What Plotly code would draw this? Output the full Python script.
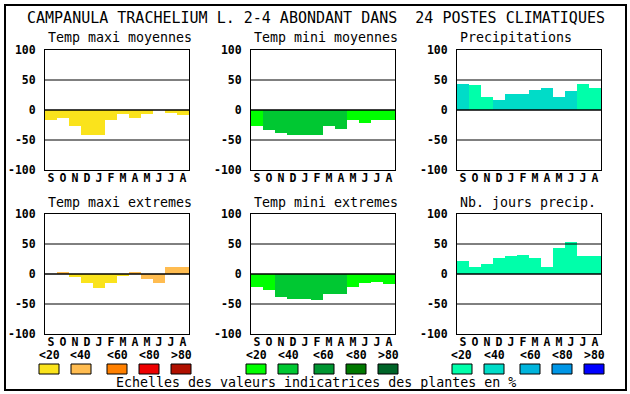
import plotly.graph_objects as go

W, H = 630, 394

# ---------------- data ----------------
TITLE = "CAMPANULA TRACHELIUM L. 2-4 ABONDANT DANS\u00a0\u00a024 POSTES CLIMATIQUES"
MONTHS = ["S", "O", "N", "D", "J", "F", "M", "A", "M", "J", "J", "A"]
PANEL_TITLES = ["Temp maxi moyennes", "Temp mini moyennes", "Precipitations",
                "Temp maxi extremes", "Temp mini extremes", "Nb. jours precip."]

tmax_moy = [-17, -13, -27, -42, -42, -17, -6, -14, -6, 0, -5, -8]
tmax_moy_cls = [0, 0, 0, 0, 0, 0, 0, 0, 0, 0, 0, 0]

tmin_moy = [-26, -34, -38, -41, -42, -41, -27, -31, -17, -21, -17, -16]
tmin_moy_cls = [0, 1, 1, 1, 1, 1, 1, 1, 0, 0, 0, 0]

precip = [44, 42, 21, 17, 26, 27, 34, 37, 21, 32, 44, 36]
precip_cls = [1, 0, 0, 1, 1, 1, 1, 1, 1, 1, 0, 0]

tmax_ext = [0, 4, -5, -15, -23, -15, -3, 4, -8, -15, 11, 12]
tmax_ext_cls = [0, 1, 0, 0, 0, 0, 0, 1, 1, 1, 1, 1]

tmin_ext = [-21, -27, -38, -42, -42, -44, -33, -34, -21, -15, -13, -16]
tmin_ext_cls = [0, 0, 1, 1, 1, 1, 1, 1, 0, 0, 0, 0]

nb_jours = [22, 12, 17, 27, 30, 32, 26, 11, 44, 54, 30, 30]
nb_jours_cls = [0, 0, 0, 0, 0, 0, 0, 0, 0, 0, 0, 0]

Y_TICKS = [-100, -50, 0, 50, 100]
LEGEND_LABELS = ["<20", "<40", "<60", "<80", ">80"]
FOOTER = "Echelles des valeurs indicatrices des plantes en %"

PAL_TEMP_MAX = ["#fae31c", "#ffbc50", "#ff8000", "#ee0000", "#b01000"]
PAL_TEMP_MIN = ["#00ff00", "#00c832", "#009632", "#007800", "#006428"]
PAL_WATER = ["#00ffaa", "#00dcc8", "#00b4dc", "#0096e6", "#0000ff"]

panels = [
    (tmax_moy, tmax_moy_cls, PAL_TEMP_MAX),
    (tmin_moy, tmin_moy_cls, PAL_TEMP_MIN),
    (precip, precip_cls, PAL_WATER),
    (tmax_ext, tmax_ext_cls, PAL_TEMP_MAX),
    (tmin_ext, tmin_ext_cls, PAL_TEMP_MIN),
    (nb_jours, nb_jours_cls, PAL_WATER),
]

# ---------------- layout geometry (pixels) ----------------
COL_LEFT = [45, 251, 457]
PW = 144
ROW_TOP = [50, 214]
PH = 120

MONO = "DejaVu Sans Mono"


def px(x):
    return x / W


def py(y):
    return 1 - y / H


fig = go.Figure()
layout = dict(
    width=W, height=H, autosize=False,
    margin=dict(l=0, r=0, t=0, b=0, pad=0, autoexpand=False),
    paper_bgcolor="white", plot_bgcolor="white",
    showlegend=False, bargap=0,
    font=dict(family=MONO, color="black"),
)
shapes = []
annotations = []

for i, (vals, cls, pal) in enumerate(panels):
    r, c = divmod(i, 3)
    n = i + 1
    xa = "x" if n == 1 else f"x{n}"
    ya = "y" if n == 1 else f"y{n}"
    fig.add_trace(go.Bar(
        x=list(range(len(MONTHS))), y=vals, width=1,
        marker=dict(color=[pal[k] for k in cls], line=dict(width=0)),
        xaxis=xa, yaxis=ya, hoverinfo="skip",
    ))
    x0, y0 = COL_LEFT[c], ROW_TOP[r]
    xkey = "xaxis" if n == 1 else f"xaxis{n}"
    ykey = "yaxis" if n == 1 else f"yaxis{n}"
    layout[xkey] = dict(
        domain=[px(x0), px(x0 + PW)], anchor=ya, range=[-0.5, 11.5],
        tickmode="array", tickvals=list(range(len(MONTHS))), ticktext=MONTHS,
        tickfont=dict(family=MONO, size=11.5, weight="bold", color="black"),
        ticks="", ticklabelstandoff=-3, automargin=False,
        showgrid=False, zeroline=False, showline=True, mirror=True,
        linecolor="black", linewidth=1, fixedrange=True,
    )
    layout[ykey] = dict(
        domain=[py(y0 + PH), py(y0)], anchor=xa, range=[-100, 100],
        tickmode="array", tickvals=Y_TICKS, ticktext=[str(v) for v in Y_TICKS],
        tickfont=dict(family=MONO, size=11.5, weight="bold", color="black"),
        ticks="", ticklabelstandoff=6, automargin=False,
        showgrid=False, zeroline=False, showline=True, mirror=True,
        linecolor="black", linewidth=1, fixedrange=True,
    )
    for gv in (-50, 0, 50):
        shapes.append(dict(type="line", xref=f"{xa} domain", yref=ya,
                           x0=0, x1=1, y0=gv, y1=gv, layer="above",
                           line=dict(color="black", width=1.3 if gv == 0 else 1)))
    annotations.append(dict(
        text=PANEL_TITLES[i], xref="paper", yref="paper",
        x=px(x0 + 1), y=py(y0 - 12), xanchor="left", yanchor="middle",
        showarrow=False, font=dict(family=MONO, size=13.3, color="black"),
    ))

# title
annotations.append(dict(
    text=TITLE, xref="paper", yref="paper", x=px(316), y=py(18),
    xanchor="center", yanchor="middle", showarrow=False,
    font=dict(family=MONO, size=15, color="black"),
))

# legend
LEG_START = [39, 246, 452]
LEG_OFFS = [0, 32, 68, 100, 132]
for start, pal in zip(LEG_START, [PAL_TEMP_MAX, PAL_TEMP_MIN, PAL_WATER]):
    for k, (off, lab) in enumerate(zip(LEG_OFFS, LEGEND_LABELS)):
        bx = start + off
        shapes.append(dict(type="rect", xref="paper", yref="paper",
                           x0=px(bx), x1=px(bx + 20), y0=py(374), y1=py(364),
                           fillcolor=pal[k], line=dict(color="black", width=1)))
        annotations.append(dict(
            text=lab, xref="paper", yref="paper", x=px(bx + 10), y=py(355),
            xanchor="center", yanchor="middle", showarrow=False,
            font=dict(family=MONO, size=11.5, weight="bold", color="black"),
        ))

annotations.append(dict(
    text=FOOTER, xref="paper", yref="paper", x=px(316), y=py(382),
    xanchor="center", yanchor="middle", showarrow=False,
    font=dict(family=MONO, size=13.3, color="black"),
))

# outer frame
shapes.append(dict(type="rect", xref="paper", yref="paper",
                   x0=px(5), x1=px(626), y0=py(390), y1=py(5),
                   line=dict(color="black", width=2), fillcolor="rgba(0,0,0,0)"))

layout["shapes"] = shapes
layout["annotations"] = annotations
fig.update_layout(**layout)
fig.write_html(
    "out.html",
    config={"displayModeBar": False},
    post_script="document.body.style.margin='0';document.body.style.padding='0';"
                "document.body.style.overflow='hidden';"
                "var d=document.getElementById('{plot_id}');"
                "if(d&&d.parentElement){d.parentElement.style.margin='0';"
                "d.parentElement.style.lineHeight='0';d.parentElement.style.fontSize='0';}",
)
